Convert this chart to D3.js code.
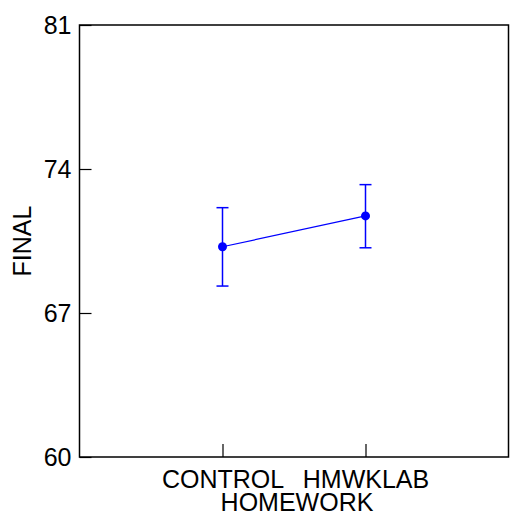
<!DOCTYPE html>
<html>
<head>
<meta charset="utf-8">
<script src="https://cdn.jsdelivr.net/npm/d3@7"></script>
<style>
  body { margin: 0; background: #fff; }
  text { font-family: "Liberation Sans", Arial, sans-serif; }
</style>
</head>
<body>
<svg width="510" height="521"></svg>
<script>
// data
var groups = ["CONTROL", "HMWKLAB"];
var means = [70.22, 71.72];
var upper = [72.12, 73.24];
var lower = [68.31, 70.17];
var yTicks = [60, 67, 74, 81];

var svg = d3.select("svg");
var plotL = 79.5, plotR = 508.5, plotT = 25, plotB = 457;
var fs = 25;

var x = d3.scalePoint().domain(groups).range([plotL, plotR]).padding(1);
var y = d3.scaleLinear().domain([60, 81]).range([plotB, plotT]);

var rows = groups.map(function(g, i) {
  return { g: g, m: means[i], hi: upper[i], lo: lower[i] };
});

// frame
svg.append("rect")
  .attr("x", plotL).attr("y", plotT)
  .attr("width", plotR - plotL).attr("height", plotB - plotT)
  .attr("fill", "none").attr("stroke", "#000").attr("stroke-width", 1.5);

// y axis, ticks pointing inward
var yAxis = svg.append("g")
  .attr("transform", "translate(" + plotL + ",0)")
  .call(d3.axisRight(y).tickValues(yTicks).tickSize(12).tickFormat(d3.format("d")));
yAxis.select(".domain").remove();
yAxis.selectAll("line").attr("stroke", "#000").attr("stroke-width", 1.2);
yAxis.selectAll("text")
  .attr("x", -8).attr("dy", "0.35em")
  .attr("text-anchor", "end")
  .attr("font-size", fs).attr("fill", "#000");

// x axis, ticks pointing inward
var xAxis = svg.append("g")
  .attr("transform", "translate(0," + plotB + ")")
  .call(d3.axisTop(x).tickSize(13));
xAxis.select(".domain").remove();
xAxis.selectAll("line").attr("stroke", "#000").attr("stroke-width", 1.2);
xAxis.selectAll("text")
  .attr("y", 31).attr("dy", 0)
  .attr("font-size", fs).attr("fill", "#000");

// axis titles
svg.append("text")
  .attr("x", 297).attr("y", 511)
  .attr("text-anchor", "middle")
  .attr("font-size", fs)
  .text("HOMEWORK");

svg.append("text")
  .attr("transform", "translate(31," + ((plotT + plotB) / 2) + ") rotate(-90)")
  .attr("text-anchor", "middle")
  .attr("font-size", fs)
  .text("FINAL");

var blue = "#0000ff";

// error bars
var bars = svg.append("g").attr("class", "errbars")
  .selectAll("g").data(rows).enter().append("g");
bars.append("line")
  .attr("x1", function(d) { return x(d.g); })
  .attr("x2", function(d) { return x(d.g); })
  .attr("y1", function(d) { return y(d.hi); })
  .attr("y2", function(d) { return y(d.lo); })
  .attr("stroke", blue).attr("stroke-width", 1.5);
bars.append("line")
  .attr("x1", function(d) { return x(d.g) - 6; })
  .attr("x2", function(d) { return x(d.g) + 6; })
  .attr("y1", function(d) { return y(d.hi); })
  .attr("y2", function(d) { return y(d.hi); })
  .attr("stroke", blue).attr("stroke-width", 1.5);
bars.append("line")
  .attr("x1", function(d) { return x(d.g) - 6; })
  .attr("x2", function(d) { return x(d.g) + 6; })
  .attr("y1", function(d) { return y(d.lo); })
  .attr("y2", function(d) { return y(d.lo); })
  .attr("stroke", blue).attr("stroke-width", 1.5);

// connecting line
var line = d3.line()
  .x(function(d) { return x(d.g); })
  .y(function(d) { return y(d.m); });
svg.append("path")
  .datum(rows)
  .attr("d", line)
  .attr("fill", "none").attr("stroke", blue).attr("stroke-width", 1.2);

// points
svg.append("g").selectAll("circle")
  .data(rows).enter().append("circle")
  .attr("cx", function(d) { return x(d.g); })
  .attr("cy", function(d) { return y(d.m); })
  .attr("r", 4.5)
  .attr("fill", blue);
</script>
</body>
</html>
